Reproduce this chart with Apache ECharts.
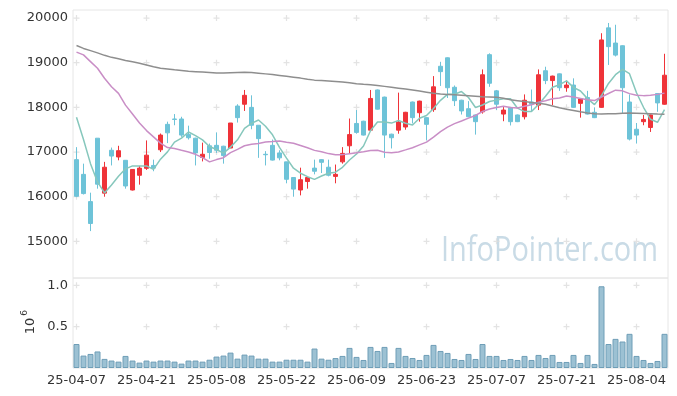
<!DOCTYPE html>
<html><head><meta charset="utf-8">
<script src="https://cdn.jsdelivr.net/npm/echarts@6/dist/echarts.min.js"></script>
<style>html,body{margin:0;padding:0;background:#fff}#c{width:677px;height:396px}</style>
</head><body><div id="c"></div>
<script>
const dates = ['25-04-07','25-04-08','25-04-09','25-04-10','25-04-11','25-04-14','25-04-15','25-04-16','25-04-17','25-04-18','25-04-21','25-04-22','25-04-23','25-04-24','25-04-25','25-04-28','25-04-29','25-04-30','25-05-02','25-05-07','25-05-08','25-05-09','25-05-12','25-05-13','25-05-14','25-05-15','25-05-16','25-05-19','25-05-20','25-05-21','25-05-22','25-05-23','25-05-26','25-05-27','25-05-28','25-05-29','25-05-30','25-06-02','25-06-04','25-06-05','25-06-09','25-06-10','25-06-11','25-06-12','25-06-13','25-06-16','25-06-17','25-06-18','25-06-19','25-06-20','25-06-23','25-06-24','25-06-25','25-06-26','25-06-27','25-06-30','25-07-01','25-07-02','25-07-03','25-07-04','25-07-07','25-07-08','25-07-09','25-07-10','25-07-11','25-07-14','25-07-15','25-07-16','25-07-17','25-07-18','25-07-21','25-07-22','25-07-23','25-07-24','25-07-25','25-07-28','25-07-29','25-07-30','25-07-31','25-08-01','25-08-04','25-08-05','25-08-06','25-08-07','25-08-08'];
// open, close, low, high
const opens  = [16830,16500,15890,17310,16080,17040,16890,16815,16150,16480,16635,16700,17050,17620,17740,17740,17390,17310,16880,17140,17150,17130,17090,18030,18070,18000,17600,16950,17150,16980,16780,16430,16150,16340,16640,16830,16660,16455,16780,17140,17640,17690,17490,18390,18230,17400,17490,17560,18120,17880,17770,17950,18920,19110,18450,18160,17970,17830,17900,19180,18370,17850,18000,17830,17790,18120,18050,18820,18600,18750,18440,18500,18090,18220,17890,18000,19780,19440,19380,18120,17510,17680,17550,18310,18070];
const closes = [16010,16070,15400,16280,16660,16910,17030,16240,16610,16640,16930,16640,17380,17430,17730,17380,17320,16980,16950,16990,17040,16920,17650,17770,18270,17600,17300,16940,16820,16870,16390,16170,16380,16430,16570,16770,16480,16500,16970,17390,17440,17380,18200,17960,17380,17320,17670,17890,17770,18140,17620,18460,18800,18440,18150,17920,17790,17680,18730,18540,18070,17940,17680,17680,18160,18070,18730,18600,18700,18440,18500,18000,18190,17850,17770,19510,19360,19170,18440,17290,17380,17730,17830,18100,18720];
const lows   = [15990,16050,15230,16180,16000,16700,16815,16180,16140,16270,16600,16570,17000,17200,17600,17340,17280,16700,16790,16850,16980,16740,17090,17660,17920,17510,16870,16700,16810,16815,16300,16000,16030,16180,16500,16530,16455,16300,16740,16970,17410,17370,17480,17950,16870,17080,17410,17500,17640,17680,17260,17900,18480,18210,18030,17840,17780,17390,17860,18460,17940,17690,17595,17670,17730,17900,17940,18520,18050,18370,18350,17990,17770,17840,17760,17990,18950,19140,17860,17260,17190,17600,17450,17900,18060];
const highs  = [17110,16740,16090,17310,16780,17100,17140,16820,16620,16690,17260,16830,17415,17680,17850,17790,17590,17320,17210,17190,17440,17140,17650,18070,18390,18270,17600,17020,17280,17040,16780,16440,16650,16440,16830,16840,16830,16720,17110,17750,17940,17700,18390,18400,18240,17410,18330,17900,18130,18150,17780,18700,19020,19120,18490,18170,18140,17840,18850,19210,18390,18030,18010,17840,18290,18400,18850,18910,18710,18760,18600,18650,18200,18370,18000,19660,19890,19850,19390,18290,17650,17830,17840,18320,19200];
// volume in units of 10^6
const volumes = [0.29,0.15,0.17,0.20,0.11,0.09,0.077,0.146,0.09,0.065,0.09,0.077,0.09,0.09,0.077,0.053,0.09,0.09,0.077,0.10,0.138,0.15,0.186,0.113,0.162,0.15,0.113,0.113,0.077,0.077,0.10,0.10,0.10,0.077,0.235,0.113,0.10,0.12,0.146,0.243,0.134,0.097,0.255,0.206,0.255,0.061,0.243,0.146,0.121,0.097,0.158,0.279,0.206,0.182,0.109,0.097,0.17,0.109,0.29,0.146,0.146,0.097,0.109,0.097,0.146,0.097,0.158,0.121,0.158,0.073,0.073,0.158,0.061,0.158,0.049,0.988,0.29,0.352,0.32,0.413,0.146,0.097,0.061,0.085,0.413];
// moving-average values before the window fills
const ma5Lead = [17780,17280,16740,16330];
const ma20Lead = [19236,19175,19025,18876,18651,18462,18314,18050,17850,17650,17480,17340,17200,17100,17078,17039,17001,16949,16875];
// long moving average
const maLong = [19384,19320,19270,19220,19165,19120,19090,19050,19020,18990,18950,18910,18876,18860,18840,18825,18810,18800,18790,18780,18770,18770,18775,18780,18785,18780,18765,18750,18735,18715,18695,18675,18655,18630,18610,18600,18590,18580,18570,18550,18530,18515,18505,18490,18470,18450,18430,18410,18390,18365,18340,18314,18300,18290,18280,18270,18260,18250,18240,18235,18225,18205,18170,18150,18130,18110,18090,18070,18030,17990,17960,17930,17900,17875,17855,17850,17855,17860,17870,17875,17870,17865,17860,17850,17845];
const priceTicks = [15000,16000,17000,18000,19000,20000];
const volTicks = [0.5,1.0];
const labelEvery = 10;

function movingAvg(n, lead){
  return closes.map((c,i)=>{
    if (i < n-1) return lead[i];
    let s=0; for(let k=i-n+1;k<=i;k++) s+=closes[k];
    return Math.round(s/n);
  });
}
const ma5 = movingAvg(5, ma5Lead);
const ma20 = movingAvg(20, ma20Lead);
const candles = dates.map((d,i)=>[opens[i],closes[i],lows[i],highs[i]]);

const xTickIdx = dates.map((d,i)=>i).filter(i=>i%labelEvery===0);
const crossMain = [], crossVol = [];
xTickIdx.forEach(x=>{ priceTicks.forEach(y=>crossMain.push([x,y])); volTicks.forEach(y=>crossVol.push([x,y])); });

const FONT = 'DejaVu Sans';
const plus = 'path://M4,0h2v10h-2z M0,4h10v2h-10z';

// watermark width fit
const wmText = 'InfoPointer.com', wmSize = 34, wmWidth = 217;
const cv = document.createElement('canvas').getContext('2d');
cv.font = wmSize + 'px "Open Sans"';
const wmScale = wmWidth / cv.measureText(wmText).width;

const chart = echarts.init(document.getElementById('c'), null, {renderer:'canvas'});
chart.setOption({
  animation:false,
  backgroundColor:'#fff',
  grid:[
    {left:73, top:10, width:595, height:268, show:true, borderColor:'#e6e6e6', borderWidth:1},
    {left:73, top:278, width:595, height:90, show:true, borderColor:'#e6e6e6', borderWidth:1}
  ],
  xAxis:[
    {type:'category', gridIndex:0, data:dates, boundaryGap:true, axisLine:{show:false}, axisTick:{show:false}, axisLabel:{show:false}, splitLine:{show:false}},
    {type:'category', gridIndex:1, data:dates, boundaryGap:true, axisLine:{show:false}, axisTick:{show:false},
     axisLabel:{interval:labelEvery-1, color:'#333', fontFamily:FONT, fontSize:13, margin:6}, splitLine:{show:false}}
  ],
  yAxis:[
    {type:'value', gridIndex:0, min:14180, max:20180, splitNumber:6, axisLine:{show:false}, axisTick:{show:false}, splitLine:{show:false},
     axisLabel:{color:'#333', fontFamily:FONT, fontSize:13, margin:5, formatter:v=>priceTicks.includes(Math.round(v))?String(Math.round(v)):''}},
    {type:'value', gridIndex:1, min:0, max:1.088, interval:0.5, axisLine:{show:false}, axisTick:{show:false}, splitLine:{show:false},
     axisLabel:{color:'#333', fontFamily:FONT, fontSize:13, margin:5, formatter:v=>v===0?'':v.toFixed(1)}}
  ],
  series:[
    {type:'scatter', xAxisIndex:0, yAxisIndex:0, data:crossMain, symbol:plus, symbolSize:6, itemStyle:{color:'#dcdcdc'}, silent:true, z:1},
    {type:'scatter', xAxisIndex:1, yAxisIndex:1, data:crossVol, symbol:plus, symbolSize:6, itemStyle:{color:'#dcdcdc'}, silent:true, z:1},
    {type:'candlestick', xAxisIndex:0, yAxisIndex:0, data:candles, barWidth:5,
     itemStyle:{color:'#ef3339', color0:'#6ec3d8', borderColor:'#ef3339', borderColor0:'#6ec3d8', borderWidth:1}, z:2},
    {type:'line', xAxisIndex:0, yAxisIndex:0, data:ma5, showSymbol:false, smooth:false, lineStyle:{color:'#86c7bc', width:1.5}, z:3},
    {type:'line', xAxisIndex:0, yAxisIndex:0, data:ma20, showSymbol:false, smooth:false, lineStyle:{color:'#c98ec6', width:1.5}, z:3},
    {type:'line', xAxisIndex:0, yAxisIndex:0, data:maLong, showSymbol:false, smooth:false, lineStyle:{color:'#8e8e8e', width:1.5}, z:3},
    {type:'bar', xAxisIndex:1, yAxisIndex:1, data:volumes, barWidth:6,
     itemStyle:{color:'#9cc1d3', borderColor:'#6f9eb7', borderWidth:1}, z:2}
  ],
  graphic:[
    {type:'text', x:441, y:234, scaleX:wmScale, z:0, silent:true,
     style:{text:wmText, font:wmSize+'px "Open Sans"', fill:'#c9dbe6'}},
    {type:'text', x:31, y:326, rotation:Math.PI/2, silent:true,
     style:{text:'10', font:'13px "DejaVu Sans"', fill:'#333', align:'center', verticalAlign:'middle'}},
    {type:'text', x:25, y:313, rotation:Math.PI/2, silent:true,
     style:{text:'6', font:'9px "DejaVu Sans"', fill:'#333', align:'center', verticalAlign:'middle'}}
  ]
});
</script></body></html>
